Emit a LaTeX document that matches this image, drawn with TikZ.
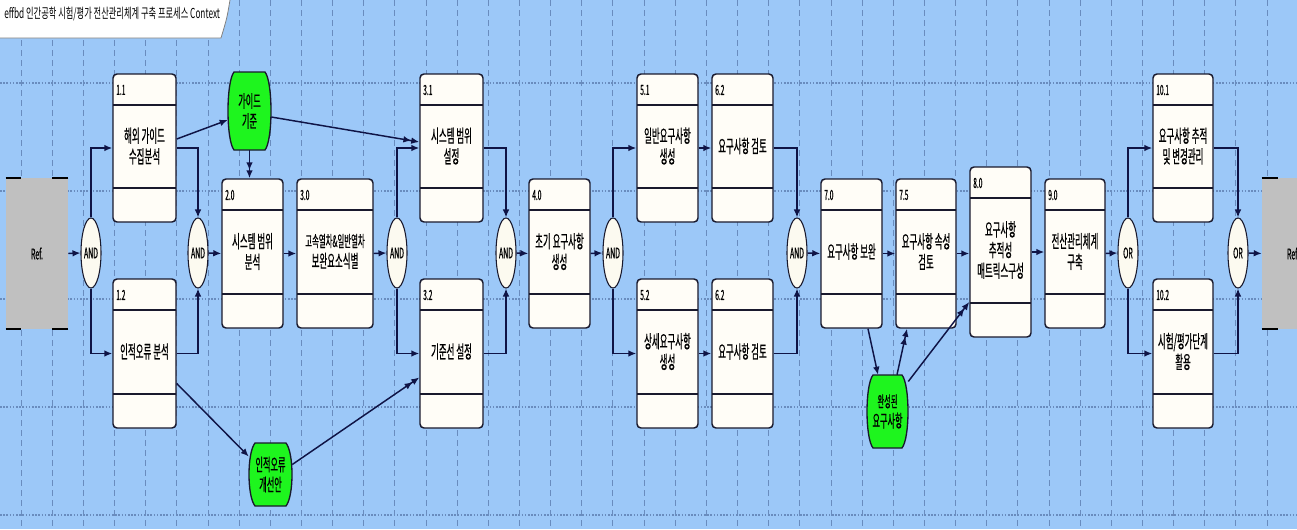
\documentclass[tikz,border=0pt]{standalone}
\usepackage{fontspec}
\newfontfamily\kr[FakeStretch=0.47,FakeBold=0.5]{Noto Sans CJK KR}
\newfontfamily\krt[FakeStretch=0.6]{Noto Sans CJK KR}
\usetikzlibrary{shapes.geometric,arrows.meta,calc}
\definecolor{bg}{RGB}{156,200,248}
\definecolor{gridcol}{RGB}{105,140,190}
\definecolor{boxline}{RGB}{25,25,45}
\definecolor{boxfill}{RGB}{255,253,247}
\definecolor{gatefill}{RGB}{252,250,240}
\definecolor{greenfill}{RGB}{30,245,30}
\definecolor{refgray}{RGB}{192,192,192}
\definecolor{conncol}{RGB}{15,20,70}

\newcommand\pbox[7]{%
  \node[procbox, minimum width={(#4-#2)*0.75pt}, minimum height={(#5-#3)*0.75pt}] (#1) at ({(#2+#4)/2},{(#3+#5)/2}) {};
  \draw[divider] ({#2},{#3+31}) -- ({#4},{#3+31});
  \draw[divider] ({#2},{#5-34}) -- ({#4},{#5-34});
  \node[numtext] (#1n) at ({#2+3},{#3+16}) {#6};
  \node[maintext] (#1t) at ({(#2+#4)/2},{(#3+#5)/2-2}) {#7};
}
\newcommand\gbox[6]{%
  \filldraw[greenshape] ({#2-#4/2+6},{#3-#5/2}) -- ({#2+#4/2-6},{#3-#5/2})
    .. controls ({#2+#4/2+2},{#3-#5/2+10}) and ({#2+#4/2+2},{#3+#5/2-10}) .. ({#2+#4/2-6},{#3+#5/2})
    -- ({#2-#4/2+6},{#3+#5/2})
    .. controls ({#2-#4/2-2},{#3+#5/2-10}) and ({#2-#4/2-2},{#3-#5/2+10}) .. cycle;
  \node[greentext, minimum width={#4*0.75pt}, minimum height={#5*0.75pt}] (#1) at (#2,#3) {#6};
}

\begin{document}
\begin{tikzpicture}[x=0.75pt,y=-0.75pt,
  procbox/.style={draw=boxline, line width=1.1pt, fill=boxfill, rounded corners=3pt, inner sep=0pt},
  divider/.style={draw=boxline, line width=1pt},
  numtext/.style={font=\kr\fontsize{10.5}{11}\selectfont, anchor=west, inner sep=0pt},
  maintext/.style={font=\kr\fontsize{13.5}{15.5}\selectfont, align=center, inner sep=0pt},
  gate/.style={ellipse, draw=boxline, line width=0.8pt, fill=gatefill, inner sep=0pt,
    minimum width=15pt, minimum height=52.5pt, font=\kr\fontsize{11}{12}\selectfont},
  greenshape/.style={draw=boxline, line width=1pt, fill=greenfill},
  greentext/.style={inner sep=0pt, align=center, font=\kr\fontsize{13}{15}\selectfont},
  refbox/.style={fill=refgray, inner sep=0pt, minimum width=46.5pt, minimum height=113.25pt,
    font=\kr\fontsize{11}{12}\selectfont},
  bracket/.style={draw=black, line width=1.2pt},
  conn/.style={draw=conncol, line width=1.1pt, -{Latex[length=6pt,width=5pt]}},
  conntwo/.style={draw=conncol, line width=1.1pt, -{Latex[length=6pt,width=5pt] Latex[length=6pt,width=5pt]}},
  vgrid/.style={draw=gridcol, line width=0.6pt, dash pattern=on 4.5pt off 3pt},
  hgrid/.style={draw=gridcol, line width=0.8pt, dash pattern=on 1.2pt off 1.2pt}
]
\useasboundingbox (0,0) rectangle (1297,529);
\begin{scope}
\clip (0,0) rectangle (1297,529);
\fill[bg] (0,0) rectangle (1297,529);
\foreach \i in {0,...,41} \draw[vgrid] ({21+31.15*\i},0) -- ({21+31.15*\i},529);
\foreach \yy in {83,191,299,407,515} \draw[hgrid] (0,\yy) -- (1297,\yy);

% title tab
\fill[white] (0,0) -- (230,0) .. controls (227,18) .. (221,38) -- (0,38) -- cycle;
\draw[gray, line width=0.6pt] (230,0) .. controls (227,18) .. (221,38) -- (0,38);
\node[font=\krt\fontsize{10.3}{12}\selectfont, anchor=west, inner sep=0pt] (title) at (4,14)
  {effbd 인간공학 시험/평가 전산관리체계 구축 프로세스 Context};

% reference boxes
\node[refbox] (refL) at (37,253.5) {Ref.};
\draw[bracket] (refL.north west) -- ++(15,0);
\draw[bracket] (refL.north east) -- ++(-16,0);
\draw[bracket] (refL.south west) -- ++(15,0);
\draw[bracket] (refL.south east) -- ++(-16,0);
\node[refbox] (refR) at (1293,253.5) {Ref.};
\draw[bracket] (refR.north west) -- ++(16,0);
\draw[bracket] (refR.south west) -- ++(16,0);

% gates
\node[gate] (and1) at (91,253) {AND};
\node[gate] (and2) at (198,253) {AND};
\node[gate] (and3) at (397,253) {AND};
\node[gate] (and4) at (506,253) {AND};
\node[gate] (and5) at (613,253) {AND};
\node[gate] (and6) at (797,253) {AND};
\node[gate] (or1) at (1128,253) {OR};
\node[gate] (or2) at (1238,253) {OR};

% process boxes
\pbox{b11}{113}{74}{176}{222}{1.1}{해외 가이드\\수집분석}
\pbox{b12}{113}{279}{176}{428}{1.2}{인적오류 분석}
\pbox{b20}{222}{179}{283}{328}{2.0}{시스템 범위\\분석}
\pbox{b30}{297}{179}{373}{328}{3.0}{\fontsize{11.8}{15.5}\selectfont 고속열차\&일반열차\\보완요소식별}
\pbox{b31}{420}{74}{483}{222}{3.1}{시스템 범위\\설정}
\pbox{b32}{420}{279}{483}{428}{3.2}{기준선 설정}
\pbox{b40}{529}{179}{590}{328}{4.0}{초기 요구사항\\생성}
\pbox{b51}{637}{74}{698}{222}{5.1}{일반요구사항\\생성}
\pbox{b62a}{712}{74}{773}{222}{6.2}{요구사항 검토}
\pbox{b52}{637}{279}{698}{428}{5.2}{상세요구사항\\생성}
\pbox{b62b}{712}{279}{773}{428}{6.2}{요구사항 검토}
\pbox{b70}{821}{179}{882}{328}{7.0}{요구사항 보완}
\pbox{b75}{896}{179}{956}{328}{7.5}{요구사항 속성\\검토}
\pbox{b80}{970}{167}{1031}{337}{8.0}{요구사항\\추적성\\매트릭스구성}
\pbox{b90}{1045}{179}{1105}{328}{9.0}{전산관리체계\\구축}
\pbox{b101}{1153}{74}{1213}{222}{10.1}{요구사항 추적\\및 변경관리}
\pbox{b102}{1153}{279}{1213}{428}{10.2}{시험/평가단계\\활용}

% green items
\gbox{g1}{249.5}{111}{43}{78}{가이드\\기준}
\gbox{g2}{270.5}{474.5}{43}{63}{인적오류\\개선안}
\gbox{g3}{887.5}{411.5}{41}{73}{\fontsize{11.5}{15}\selectfont 완성된\\요구사항}

% connectors
\draw[conn] (refL.east) -- (and1.west);
\draw[conn] (and1.north) |- (b11.west);
\draw[conn] (and1.south) |- (b12.west);
\draw[conn] (b11.east) -| (and2.north);
\draw[conn] (b12.east) -| (and2.south);
\draw[conn] (and2.east) -- (b20.west);
\draw[conn] (b20.east) -- (b30.west);
\draw[conn] (b30.east) -- (and3.west);
\draw[conn] (and3.north) |- (b31.west);
\draw[conn] (and3.south) |- (b32.west);
\draw[conn] (b31.east) -| (and4.north);
\draw[conn] (b32.east) -| (and4.south);
\draw[conn] (and4.east) -- (b40.west);
\draw[conn] (b40.east) -- (and5.west);
\draw[conn] (and5.north) |- (b51.west);
\draw[conn] (and5.south) |- (b52.west);
\draw[conn] (b51.east) -- (b62a.west);
\draw[conn] (b52.east) -- (b62b.west);
\draw[conn] (b62a.east) -| (and6.north);
\draw[conn] (b62b.east) -| (and6.south);
\draw[conn] (and6.east) -- (b70.west);
\draw[conn] (b70.east) -- (b75.west);
\draw[conn] (b75.east) -- (b75.east -| b80.west);
\draw[conn] (b80.east) -- (b80.east -| b90.west);
\draw[conn] (b90.east) -- (or1.west);
\draw[conn] (or1.north) |- (b101.west);
\draw[conn] (or1.south) |- (b102.west);
\draw[conn] (b101.east) -| (or2.north);
\draw[conn] (b102.east) -| (or2.south);
\draw[conn] (or2.east) -- (refR.west);

\draw[conn] ($(b11.east)+(0,-9)$) -- ($(g1.west)+(0,9)$);
\draw[conntwo] ($(g1.east)+(0,6)$) -- ($(b31.west)+(0,-6)$);
\draw[conntwo] (g1.south) -- (g1.south |- b20.north);
\draw[conn] ($(b12.east)+(0,30)$) -- ($(g2.west)+(0,-18)$);
\draw[conntwo] ($(g2.east)+(0,-10)$) -- ($(b32.west)+(0,24)$);
\draw[conn] ($(b70.south)+(16.5,0)$) -- ($(g3.north)+(-9.5,0)$);
\draw[conntwo] ($(g3.north)+(9.5,0)$) -- ($(b75.south)+(-19,0)$);
\draw[conntwo] ($(g3.east)+(0,-30)$) -- ($(b80.west)+(0,50)$);
\end{scope}
\end{tikzpicture}
\end{document}
